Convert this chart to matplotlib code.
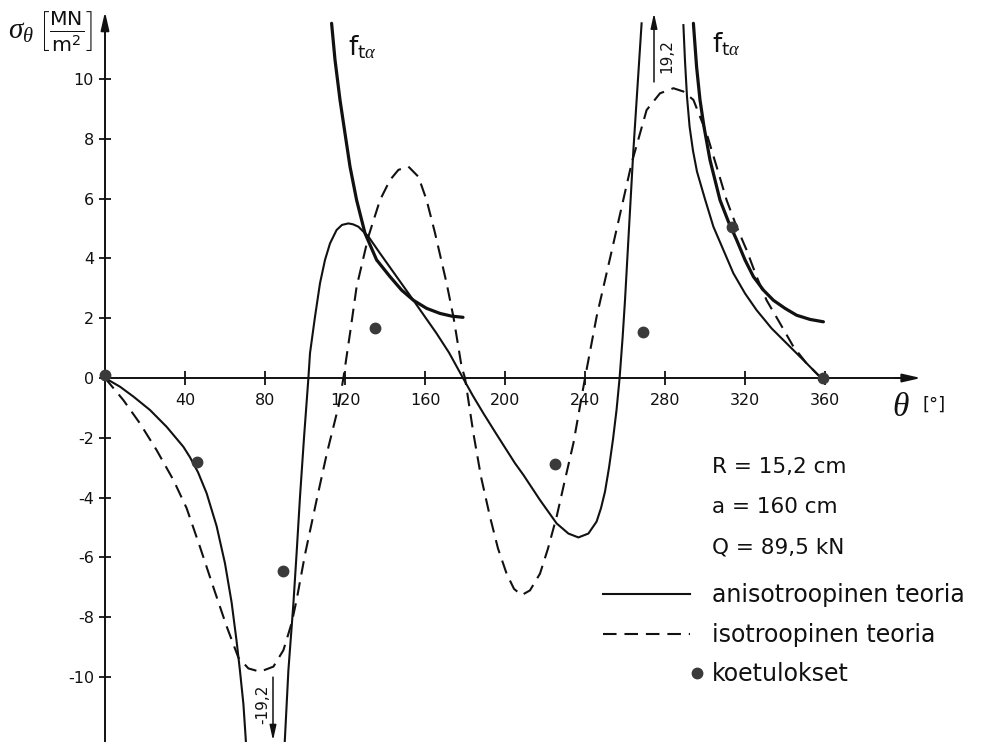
import numpy as np
import matplotlib
matplotlib.use("Agg")
import matplotlib.pyplot as plt
from matplotlib.lines import Line2D
from matplotlib.legend_handler import HandlerLine2DCompound

plt.rcParams['font.family'] = ['DejaVu Sans']
plt.rcParams['mathtext.fontset'] = 'custom'
plt.rcParams['mathtext.rm'] = 'DejaVu Sans'
plt.rcParams['mathtext.sf'] = 'DejaVu Sans'
plt.rcParams['mathtext.it'] = 'Liberation Serif:italic'
plt.rcParams['mathtext.bf'] = 'DejaVu Sans:bold'

# ---------------- data ----------------
# anisotropic theory (solid), first part (dips to -19.2 below the frame)
aniso_theta_a = [0, 7.5, 14.2, 22.5, 30.8, 39.2, 42.5, 46.5, 50.8, 55.8, 60, 63.3, 65.8,
                 67.5, 69.2, 70.3, 71.2, 81, 89.2, 90, 91.7, 94.2, 95.8, 97.5, 99.5,
                 101.7, 102.5, 105, 107.5, 110, 112.5, 115.8, 118.5, 121.7, 124,
                 126.7, 131.7, 137.5, 145.8, 154.2, 165.8, 172, 179, 184, 189.2, 195,
                 200.8, 205, 209.2, 217.5, 225.8, 231.7, 236.7, 241.7, 245.8, 248,
                 250, 252, 254, 255.8, 257.3, 258.8, 260, 262, 264.2, 266.5, 268.3]
aniso_sigma_a = [0, -0.29, -0.62, -1.07, -1.63, -2.3, -2.65, -3.15, -3.85, -4.95, -6.2,
                 -7.5, -8.8, -9.8, -10.9, -12.0, -13.0, -19.2, -13.0, -12.0, -9.77,
                 -7.54, -5.86, -3.97, -2.0, 0.0, 0.83, 2.05, 3.17, 3.95, 4.5, 4.95,
                 5.12, 5.17, 5.14, 5.06, 4.73, 4.17, 3.39, 2.6, 1.49, 0.85, 0.0, -0.6,
                 -1.18, -1.8, -2.41, -2.85, -3.24, -4.08, -4.86, -5.2, -5.33, -5.2,
                 -4.8, -4.35, -3.8, -3.0, -2.05, -1.05, 0.0, 1.35, 2.6, 5.0, 7.63, 10.0,
                 11.86]
# anisotropic theory (solid), second part (after the 19.2 peak)
aniso_theta_b = [289.2, 290, 291, 292.3, 294, 296, 300, 304.2, 309.2, 314.2, 320, 325.8,
                 333.3, 340.8, 349.2, 357.5, 360]
aniso_sigma_b = [11.8, 10.6, 9.4, 8.4, 7.6, 6.9, 5.98, 5.06, 4.28, 3.5, 2.83, 2.27, 1.66,
                 1.16, 0.6, 0.04, 0.0]

# isotropic theory (dashed)
iso_theta = [0, 9.2, 17.5, 25.8, 34.2, 40.8, 47.5, 54.2, 60.8, 66.7, 71.7, 77.5, 84.2,
             89.2, 93.3, 95.8, 100, 105.8, 111, 116.7, 119.2, 122.5, 125.8, 131.7,
             137.5, 142.5, 146.7, 151.7, 156.7, 160.8, 165, 170.8, 174.2, 178.3, 180,
             184.2, 188, 192.5, 196.5, 200.8, 204.5, 208.3, 212.5, 217.5, 221.5, 225.8,
             230, 234.2, 240, 245.8, 252.5, 258, 263.3, 270.8, 277.5, 284.2, 289.2,
             294.2, 297.5, 300.8, 305.8, 310.8, 315.8, 320.8, 325.8, 330.8, 337.5,
             344.2, 350.8, 357.5, 360]
iso_sigma = [0, -0.74, -1.52, -2.41, -3.41, -4.35, -5.65, -7.0, -8.3, -9.35, -9.71,
             -9.82, -9.65, -9.1, -8.2, -7.42, -5.9, -4.08, -2.5, -0.96, 0.0, 1.49, 3.05,
             4.73, 5.95, 6.62, 6.96, 7.07, 6.73, 5.95, 4.85, 3.17, 2.05, 0.38, 0.0,
             -1.85, -3.3, -4.64, -5.7, -6.54, -7.05, -7.26, -7.1, -6.54, -5.7, -4.64,
             -3.4, -2.18, 0.0, 2.05, 4.0, 5.62, 7.18, 8.96, 9.52, 9.69, 9.58, 9.3, 8.74,
             8.18, 7.07, 5.95, 5.06, 4.28, 3.39, 2.6, 1.83, 1.05, 0.49, 0.04, 0.0]

# f_t alpha curves (thick)
fta1_theta = [113.3, 115, 117.5, 120, 122.5, 125.8, 130, 135.8, 142.5, 148.3, 154.2,
              160.8, 167.5, 173.3, 179]
fta1_sigma = [11.86, 10.64, 9.3, 8.18, 7.07, 5.95, 4.84, 3.95, 3.39, 2.94, 2.6, 2.33,
              2.16, 2.07, 2.03]
fta2_theta = [294.2, 295.8, 297.5, 299.5, 302.5, 307.5, 311.7, 315.8, 320, 324.2, 329.2,
              334.2, 340, 345.8, 352.5, 359.2]
fta2_sigma = [11.86, 10.4, 9.3, 8.4, 7.29, 5.95, 5.23, 4.62, 3.95, 3.39, 2.94, 2.6, 2.33,
              2.1, 1.96, 1.88]

# test results (dots)
test_theta = [0, 45.8, 88.8, 135, 225, 269.2, 313.7, 359.2]
test_sigma = [0.1, -2.8, -6.46, 1.66, -2.88, 1.55, 5.04, 0.0]

x_ticks = [40, 80, 120, 160, 200, 240, 280, 320, 360]
y_ticks = [-10, -8, -6, -4, -2, 0, 2, 4, 6, 8, 10]

params_text = ["R = 15,2 cm", "a = 160 cm", "Q = 89,5 kN"]
legend_labels = ["anisotroopinen teoria", "isotroopinen teoria", "koetulokset"]
peak_labels = ["19,2", "-19,2"]

# ---------------- figure ----------------
fig = plt.figure(figsize=(9.95, 7.42), dpi=100)
ax = fig.add_axes([0, 0, 1, 1])
ax.set_xlim(-52.5, 445)
ax.set_ylim(-12.17, 12.64)
ax.patch.set_alpha(0)

ink = '#111111'
for s in ['top', 'right']:
    ax.spines[s].set_visible(False)
ax.spines['left'].set_position(('data', 0))
ax.spines['bottom'].set_position(('data', 0))
ax.spines['left'].set_bounds(-12.3, 11.8)
ax.spines['bottom'].set_bounds(0, 400)
for s in ['left', 'bottom']:
    ax.spines[s].set_linewidth(1.4)
    ax.spines[s].set_color(ink)

ax.set_xticks(x_ticks)
ax.set_yticks(y_ticks)
ax.set_xticklabels([str(v) for v in x_ticks])
ax.set_yticklabels([str(v) for v in y_ticks])
ax.tick_params(axis='x', direction='inout', length=10, width=1.3, pad=6,
               labelsize=11.5, colors=ink)
ax.tick_params(axis='y', direction='inout', length=8, width=1.3, pad=4,
               labelsize=11.5, colors=ink)

# axis arrows
arrow_kw = dict(arrowstyle='-|>,head_length=1.1,head_width=0.25', color=ink,
                lw=1.4, mutation_scale=10, shrinkA=0, shrinkB=0)
ax.annotate('', xy=(408, 0), xytext=(395, 0), arrowprops=arrow_kw)
ax.annotate('', xy=(0, 12.25), xytext=(0, 11.5), arrowprops=arrow_kw)

# curves
ax.plot(aniso_theta_a, aniso_sigma_a, color=ink, lw=1.5, solid_joinstyle='round')
ax.plot(aniso_theta_b, aniso_sigma_b, color=ink, lw=1.5, solid_joinstyle='round')
ax.plot(iso_theta, iso_sigma, color=ink, lw=1.5, linestyle=(0, (6.5, 3.8)))
ax.plot(fta1_theta, fta1_sigma, color=ink, lw=2.3, solid_capstyle='round',
        solid_joinstyle='round')
ax.plot(fta2_theta, fta2_sigma, color=ink, lw=2.3, solid_capstyle='round',
        solid_joinstyle='round')
ax.plot(test_theta, test_sigma, linestyle='none', marker='o', markersize=7.5,
        color='#3a3a3a', zorder=5)

# f_t alpha labels
ax.text(121.5, 11.05, r'$\mathrm{f}_{\mathrm{t}\alpha}$', fontsize=19, ha='left',
        va='center', color=ink)
ax.text(303.5, 11.15, r'$\mathrm{f}_{\mathrm{t}\alpha}$', fontsize=19, ha='left',
        va='center', color=ink)

# off-scale peak markers
small_arrow = dict(arrowstyle='-|>,head_length=1.0,head_width=0.22', color=ink,
                   lw=1.1, mutation_scale=9, shrinkA=0, shrinkB=0)
ax.annotate('', xy=(274.5, 12.2), xytext=(274.5, 9.9), arrowprops=small_arrow)
ax.text(281, 10.75, peak_labels[0], rotation=90, fontsize=11, ha='center',
        va='center', color=ink)
ax.annotate('', xy=(84, -12.12), xytext=(84, -10.0), arrowprops=small_arrow,
            annotation_clip=False)
ax.text(79, -10.9, peak_labels[1], rotation=90, fontsize=11, ha='center',
        va='center', color=ink)

# axis labels
ax.text(-48.5, 11.6, r'$\sigma_\theta\;\left[\frac{\mathrm{MN}}{\mathrm{m}^2}\right]$',
        fontsize=21, ha='left', va='center', color=ink)
ax.text(398, -0.95, r'$\theta$', fontsize=24, ha='center', va='center', color=ink)
ax.text(408.5, -0.9, '[°]', fontsize=13, ha='left', va='center', color=ink)

# parameter text
for i, t in enumerate(params_text):
    ax.text(0.716, 0.371 - i * 0.0545, t, transform=ax.transAxes, fontsize=15.5,
            ha='left', va='center', color=ink)


class RightMarkerHandler(HandlerLine2DCompound):
    def get_xdata(self, legend, xdescent, ydescent, width, height, fontsize):
        xdata = [-xdescent, -xdescent + width]
        return xdata, [-xdescent + width + 0.3 * fontsize]


h1 = Line2D([], [], color=ink, lw=1.5)
h2 = Line2D([], [], color=ink, lw=1.5, linestyle=(0, (6.5, 3.8)))
h3 = Line2D([], [], color='#3a3a3a', linestyle='none', marker='o', markersize=7.5)
leg = ax.legend([h1, h2, h3], legend_labels, loc='upper left',
                bbox_to_anchor=(0.606, 0.214), frameon=False, fontsize=17,
                handlelength=3.7, handletextpad=0.9, labelspacing=0.66,
                borderpad=0, borderaxespad=0, numpoints=1,
                handler_map={h3: RightMarkerHandler(numpoints=1)})
for t in leg.get_texts():
    t.set_color(ink)

fig.savefig('out.png', dpi=100)
